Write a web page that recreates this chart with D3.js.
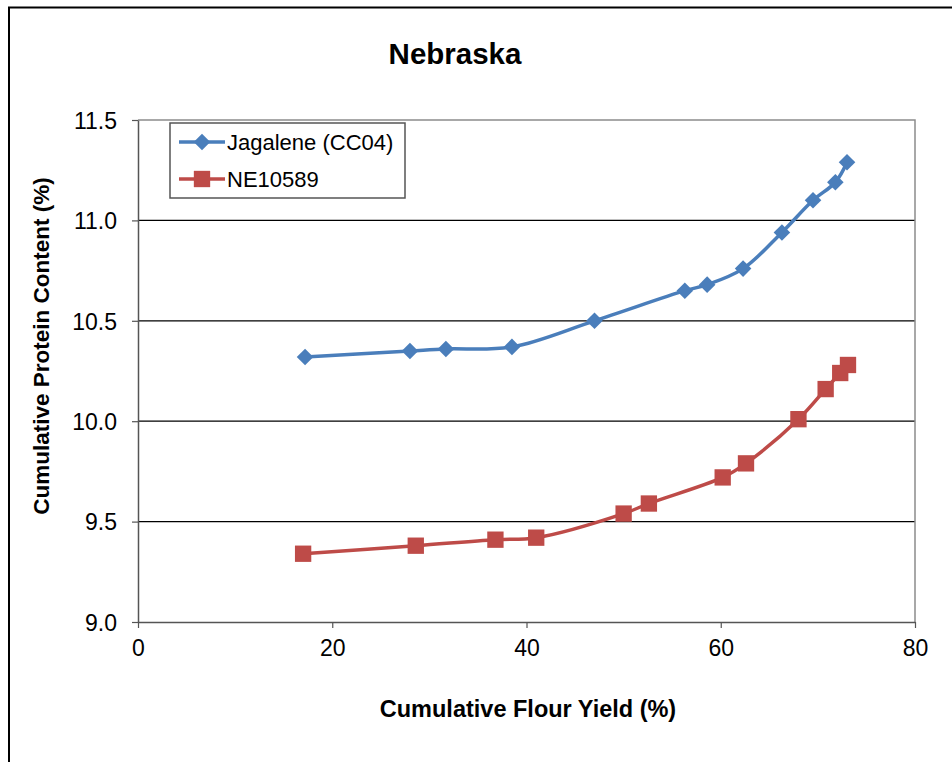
<!DOCTYPE html>
<html>
<head>
<meta charset="utf-8">
<script src="https://cdn.jsdelivr.net/npm/d3@7"></script>
<style>
  body { margin: 0; background: #fff; }
  text { font-family: "Liberation Sans", Arial, sans-serif; }
</style>
</head>
<body>
<svg width="952" height="762"></svg>
<script>
// values
var jagaleneYield   = [17.2, 28.0, 31.7, 38.5, 47.0, 56.3, 58.6, 62.3, 66.3, 69.5, 71.8, 73.0];
var jagaleneProtein = [10.32, 10.35, 10.36, 10.37, 10.50, 10.65, 10.68, 10.76, 10.94, 11.10, 11.19, 11.29];
var neYield   = [17.0, 28.6, 36.8, 41.0, 50.0, 52.6, 60.2, 62.6, 68.0, 70.8, 72.3, 73.1];
var neProtein = [9.34, 9.38, 9.41, 9.42, 9.54, 9.59, 9.72, 9.79, 10.01, 10.16, 10.24, 10.28];
var xTicks = [0, 20, 40, 60, 80];
var yTicks = [9.0, 9.5, 10.0, 10.5, 11.0, 11.5];

var series = [
  {name: "Jagalene (CC04)", color: "#4A7EBB", symbol: d3.symbolDiamond2, size: 175,
   values: jagaleneYield.map(function(d, i) { return {x: d, y: jagaleneProtein[i]}; })},
  {name: "NE10589", color: "#BE4B48", symbol: d3.symbolSquare2, size: 340,
   values: neYield.map(function(d, i) { return {x: d, y: neProtein[i]}; })}
];

var svg = d3.select("svg"),
    margin = {top: 120, right: 37, bottom: 140, left: 138},
    width = 952 - margin.left - margin.right,
    height = 762 - margin.top - margin.bottom,
    g = svg.append("g").attr("transform", "translate(" + margin.left + "," + margin.top + ")");

// outer frame (top and left only)
svg.append("path")
    .attr("d", "M9,762V7.5H952")
    .attr("fill", "none")
    .attr("stroke", "#000")
    .attr("stroke-width", 2);

var x = d3.scaleLinear().domain([0, 80]).range([0, width]),
    y = d3.scaleLinear().domain([9, 11.5]).range([height, 0]);

// gridlines
g.selectAll(".grid")
  .data(yTicks.slice(1, -1))
  .enter().append("line")
    .attr("x1", 0).attr("x2", width)
    .attr("y1", function(d) { return y(d); })
    .attr("y2", function(d) { return y(d); })
    .attr("stroke", "#000")
    .attr("stroke-width", 1.2);

// plot area border (top, right)
g.append("path")
    .attr("d", "M0," + y(11.5) + "H" + width + "V" + height)
    .attr("fill", "none")
    .attr("stroke", "#8c8c8c")
    .attr("stroke-width", 1.5);

var xAxis = g.append("g")
    .attr("transform", "translate(0," + height + ")")
    .call(d3.axisBottom(x).tickValues(xTicks).tickSize(6).tickPadding(8).tickSizeOuter(0));

var yAxis = g.append("g")
    .call(d3.axisLeft(y).tickValues(yTicks).tickFormat(d3.format(".1f")).tickSize(6).tickPadding(15).tickSizeOuter(0));

[xAxis, yAxis].forEach(function(a) {
  a.select(".domain").attr("stroke", "#555").attr("stroke-width", 1.5);
  a.selectAll(".tick line").attr("stroke", "#555").attr("stroke-width", 1.2);
  a.selectAll("text")
      .style("font-family", "'Liberation Sans', Arial, sans-serif")
      .style("font-size", "23px")
      .attr("fill", "#000");
});
xAxis.selectAll("text").attr("dy", "0.85em");
yAxis.selectAll("text").attr("dy", "0.36em");

var line = d3.line()
    .curve(d3.curveCatmullRom.alpha(0.5))
    .x(function(d) { return x(d.x); })
    .y(function(d) { return y(d.y); });

var s = g.selectAll(".series")
  .data(series)
  .enter().append("g");

s.append("path")
    .attr("d", function(d) { return line(d.values); })
    .attr("fill", "none")
    .attr("stroke", function(d) { return d.color; })
    .attr("stroke-width", 3.5);

s.each(function(d) {
  d3.select(this).selectAll("path.pt")
    .data(d.values)
    .enter().append("path")
      .attr("class", "pt")
      .attr("d", d3.symbol().type(d.symbol).size(d.size))
      .attr("transform", function(p) { return "translate(" + x(p.x) + "," + y(p.y) + ")"; })
      .attr("fill", d.color);
});

// title and axis titles
svg.append("text")
    .attr("x", 455).attr("y", 64)
    .attr("text-anchor", "middle")
    .style("font-size", "29.5px").style("font-weight", "bold")
    .text("Nebraska");

svg.append("text")
    .attr("x", 528).attr("y", 717)
    .attr("text-anchor", "middle")
    .style("font-size", "23.5px").style("font-weight", "bold")
    .text("Cumulative Flour Yield (%)");

svg.append("text")
    .attr("transform", "translate(49,346) rotate(-90)")
    .attr("text-anchor", "middle")
    .style("font-size", "22.5px").style("font-weight", "bold")
    .text("Cumulative Protein Content (%)");

// legend
var legend = svg.append("g").attr("transform", "translate(170,123)");
legend.append("rect")
    .attr("width", 235).attr("height", 75)
    .attr("fill", "#fff")
    .attr("stroke", "#555")
    .attr("stroke-width", 1.5);

var item = legend.selectAll(".item")
  .data(series)
  .enter().append("g")
    .attr("transform", function(d, i) { return "translate(0," + (19 + i * 37) + ")"; });

item.append("line")
    .attr("x1", 9).attr("x2", 55)
    .attr("stroke", function(d) { return d.color; })
    .attr("stroke-width", 3.5);
item.append("path")
    .attr("d", function(d) { return d3.symbol().type(d.symbol).size(d.size)(); })
    .attr("transform", "translate(32,0)")
    .attr("fill", function(d) { return d.color; });
item.append("text")
    .attr("x", 57).attr("dy", "0.36em")
    .style("font-size", "22px")
    .text(function(d) { return d.name; });
</script>
</body>
</html>
